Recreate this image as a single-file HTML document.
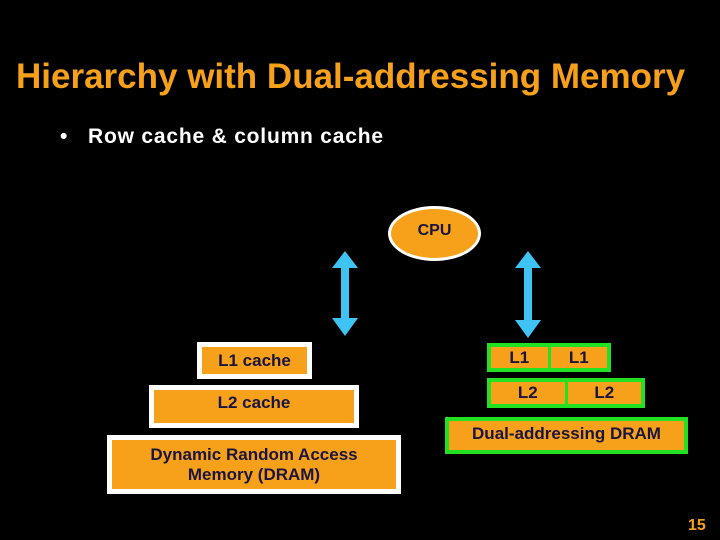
<!DOCTYPE html>
<html><head><style>
body{margin:0;width:720px;height:540px;background:#000;position:relative;overflow:hidden;font-family:"Liberation Sans",Arial,sans-serif;font-weight:bold}
.a{position:absolute;box-sizing:border-box}
.o{background:#f7a11a;color:#1a1440;display:flex;align-items:center;justify-content:center;text-align:center}
.w{border:5px solid #fff}
.g{border:4px solid #22e022}
</style></head><body>
<div class="a" style="left:16px;top:57px;width:700px;color:#f7a11a;font-size:35px;white-space:nowrap">Hierarchy with Dual-addressing Memory</div>
<div class="a" style="left:60px;top:125px;color:#fff;font-size:21px;letter-spacing:0.8px;white-space:nowrap">•&nbsp;&nbsp; Row cache &amp; column cache</div>
<div class="a o" style="left:388px;top:206px;width:93px;height:55px;border-radius:50%;border:3px solid #fff;font-size:16px;padding-bottom:6px">CPU</div>
<svg class="a" style="left:0;top:0" width="720" height="540">
<polygon fill="#3ec3f2" points="345,251 358,268 349,268 349,318 358,318 345,336 332,318 341,318 341,268 332,268"/>
<polygon fill="#3ec3f2" points="528,251 541,268 532,268 532,320 541,320 528,338 515,320 524,320 524,268 515,268"/>
</svg>
<div class="a o w" style="left:197px;top:342px;width:115px;height:37px;font-size:17px">L1 cache</div>
<div class="a o w" style="left:149px;top:385px;width:210px;height:43px;font-size:17px;padding-bottom:8px">L2 cache</div>
<div class="a o w" style="left:107px;top:435px;width:294px;height:59px;font-size:17px">Dynamic Random Access<br>Memory (DRAM)</div>
<div class="a g" style="left:487px;top:343px;width:124px;height:29px;background:#22e022;display:flex;gap:3px">
<div class="o" style="flex:1;font-size:17px">L1</div><div class="o" style="flex:1;font-size:17px">L1</div></div>
<div class="a g" style="left:487px;top:378px;width:158px;height:30px;background:#22e022;display:flex;gap:3px">
<div class="o" style="flex:1;font-size:17px">L2</div><div class="o" style="flex:1;font-size:17px">L2</div></div>
<div class="a o g" style="left:445px;top:417px;width:243px;height:37px;font-size:17px;padding-bottom:4px">Dual-addressing DRAM</div>
<div class="a" style="left:688px;top:517px;color:#f7a11a;font-size:16px">15</div>
</body></html>
